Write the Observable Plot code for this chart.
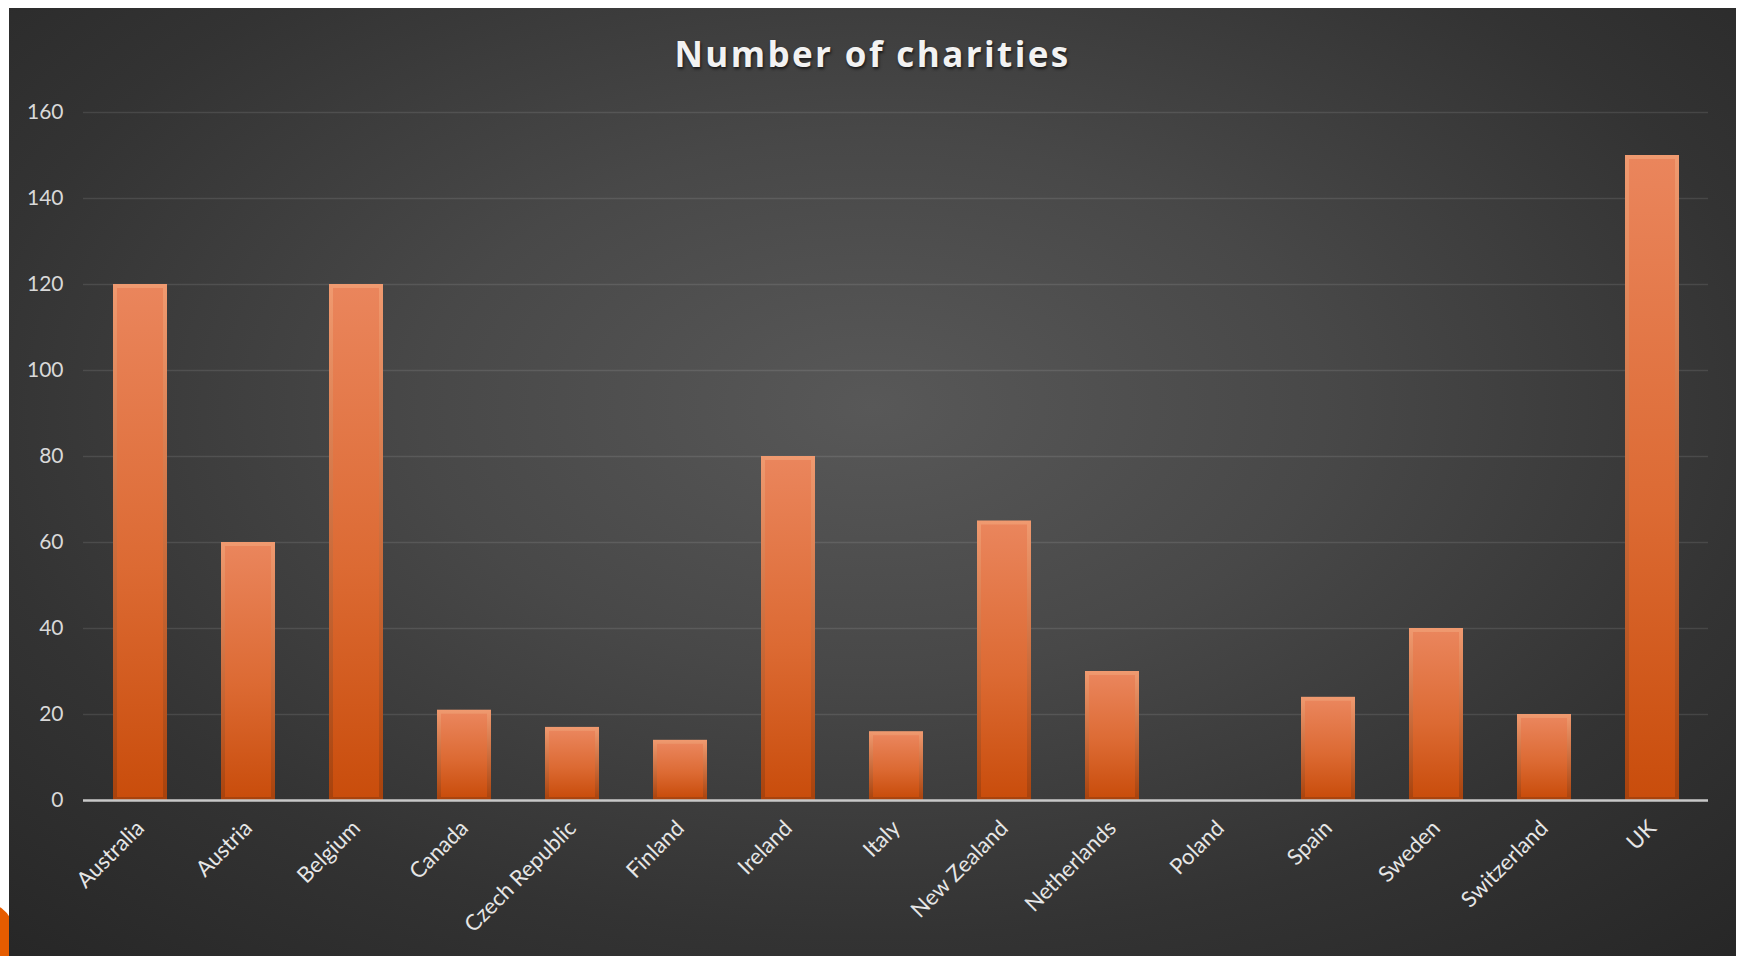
<!DOCTYPE html>
<html>
<head>
<meta charset="utf-8">
<script src="https://cdn.jsdelivr.net/npm/d3@7"></script>
<script src="https://cdn.jsdelivr.net/npm/@observablehq/plot@0.6"></script>
<style>
  html, body { margin: 0; padding: 0; background: #ffffff; width: 1741px; height: 956px; overflow: hidden; }
  #blob { position: absolute; left: -34px; top: 905px; width: 52px; height: 90px; border-radius: 50%; background: #e65c00; }
  #panel { position: absolute; left: 9px; top: 8px; width: 1727px; height: 948px;
    background: radial-gradient(ellipse 75% 80% at 50% 42%, #585858 0%, #484848 35%, #333333 70%, #262626 100%); }
  #title { position: absolute; left: 0; top: 22px; width: 1727px; text-align: center;
    font-family: "Open Sans", sans-serif; font-weight: 700; font-size: 35px; letter-spacing: 2.4px;
    color: #f2f2f2; text-shadow: 1px 2px 3px rgba(0,0,0,0.65); }
  #chart { position: absolute; left: 0; top: 0; }
</style>
</head>
<body>
<div id="blob"></div>
<div id="panel">
  <div id="chart"></div>
  <div id="title">Number of charities</div>
</div>
<script>
const countries = ["Australia", "Austria", "Belgium", "Canada", "Czech Republic", "Finland", "Ireland", "Italy", "New Zealand", "Netherlands", "Poland", "Spain", "Sweden", "Switzerland", "UK"];
const charities = [120, 60, 120, 21, 17, 14, 80, 16, 65, 30, 0, 24, 40, 20, 150];
const yTicks = [0, 20, 40, 60, 80, 100, 120, 140, 160];

const data = countries.map((c, i) => ({country: c, value: charities[i]}));

const defs = () => {
  const g = d3.create("svg:defs");
  const outer = g.append("linearGradient").attr("id", "barEdge").attr("x1", 0).attr("y1", 0).attr("x2", 0).attr("y2", 1);
  outer.append("stop").attr("offset", "0%").attr("stop-color", "#f09a70");
  outer.append("stop").attr("offset", "100%").attr("stop-color", "#a8420c");
  const inner = g.append("linearGradient").attr("id", "barFill").attr("x1", 0).attr("y1", 0).attr("x2", 0).attr("y2", 1);
  inner.append("stop").attr("offset", "0%").attr("stop-color", "#ea855c");
  inner.append("stop").attr("offset", "55%").attr("stop-color", "#dc6a33");
  inner.append("stop").attr("offset", "100%").attr("stop-color", "#c94d0c");
  return g.node();
};

const chart = Plot.plot({
  width: 1727,
  height: 948,
  marginLeft: 74,
  marginRight: 28,
  marginTop: 104,
  marginBottom: 156,
  style: { background: "transparent", color: "#d9d9d9", fontFamily: "Lato, 'Open Sans', sans-serif" },
  x: { domain: countries, paddingInner: 0.5, paddingOuter: 0.25, label: null },
  y: { domain: [0, 160], label: null },
  marks: [
    defs,
    Plot.gridY(yTicks, { stroke: "#ffffff", strokeOpacity: 0.1, strokeWidth: 1.5 }),
    Plot.axisY(yTicks, { tickSize: 0, tickPadding: 20, fontSize: 21, fill: "#d9d9d9", label: null }),
    Plot.axisX({ tickSize: 0, tickPadding: 24, tickRotate: -45, fontSize: 22, fill: "#e6e6e6", label: null }),
    Plot.barY(data, { x: "country", y: "value", fill: "url(#barEdge)", filter: d => d.value > 0 }),
    Plot.barY(data, { x: "country", y: "value", fill: "url(#barFill)", insetLeft: 4, insetRight: 4, insetTop: 4, insetBottom: 3, filter: d => d.value > 3 }),
    Plot.ruleY([0], { stroke: "#c8c8c8", strokeWidth: 2.5 })
  ]
});
document.getElementById("chart").appendChild(chart);
</script>
</body>
</html>
